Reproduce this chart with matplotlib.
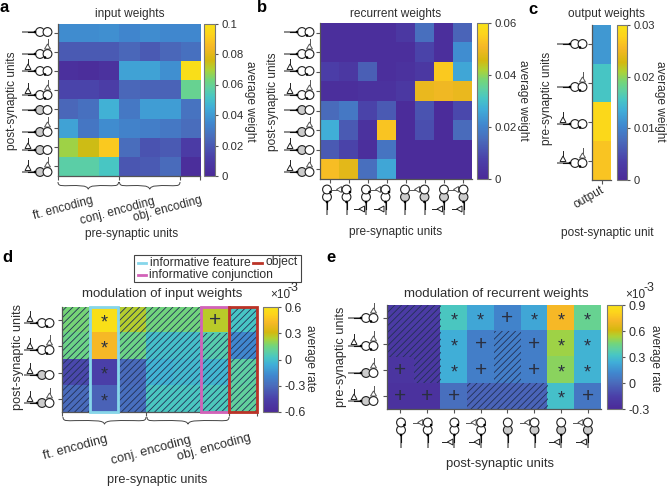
import numpy as np
import matplotlib
matplotlib.use("Agg")
import matplotlib.pyplot as plt
from matplotlib.colors import LinearSegmentedColormap
from matplotlib.patches import Rectangle, Circle, Polygon, PathPatch
from matplotlib.path import Path

plt.rcParams['font.family'] = ['Liberation Sans', 'DejaVu Sans']
plt.rcParams['hatch.linewidth'] = 0.6
TXT = '#2e2e2e'
W, H = 667, 487

input_weights = [
    [.036, .036, .037, .034, .036, .035, .035],
    [.020, .020, .020, .024, .020, .024, .027],
    [.004, .003, .005, .042, .042, .037, .098],
    [.014, .014, .011, .024, .023, .023, .060],
    [.024, .027, .046, .030, .041, .041, .028],
    [.042, .029, .036, .033, .032, .030, .026],
    [.068, .075, .090, .026, .018, .020, .010],
    [.057, .057, .052, .019, .020, .025, .003]]
recurrent_weights = [
    [.002, .002, .002, .002, .005, .016, .002, .014],
    [.002, .002, .002, .002, .002, .008, .002, .022],
    [.007, .005, .013, .002, .003, .005, .054, .026],
    [.002, .002, .003, .003, .005, .049, .050, .049],
    [.015, .018, .008, .012, .001, .011, .001, .009],
    [.027, .012, .003, .053, .001, .010, .001, .015],
    [.012, .008, .002, .017, .001, .001, .001, .001],
    [.052, .048, .016, .026, .001, .001, .001, .001]]
output_weights = [[.0118], [.0155], [.0285], [.0265]]
mod_input = [
    [.16, .58, .25, .15, .15, .26, .02],
    [.14, .42, .14, .00, .00, .07, -.18],
    [-.42, -.45, -.30, -.04, -.02, -.03, .09],
    [-.30, -.33, -.28, .03, .03, .04, .10]]
mod_input_marks = [
    ['h', '*', 'h', 'h', 'h', '+', 'h'],
    ['h', '*', 'h', 'h', 'h', 'h', 'h'],
    ['h', '*', 'h', 'h', 'h', 'h', 'h'],
    ['h', '*', 'h', 'h', 'h', 'h', 'h']]
mod_rec = [
    [-.18, -.18, .33, .22, .10, .22, .72, .42],
    [-.20, -.20, .24, .08, .08, .08, .52, .26],
    [-.22, -.20, .24, .08, .08, .08, .49, .26],
    [-.24, -.24, .02, -.02, -.02, -.02, .30, .05]]
mod_rec_marks = [
    ['h', 'h', '*', '*', '+', '*', '*', '*'],
    ['h', 'h', '*', '+', 'h', '+', '*', '*'],
    ['+', 'h', '*', '+', 'h', '+', '*', '*'],
    ['+', '+', '+', 'h', 'h', 'h', '*', '+']]
group_labels = ['ft. encoding', 'conj. encoding', 'obj. encoding']
group_edges = [0, 3, 6, 7]

cmap = LinearSegmentedColormap.from_list('parulaish', [
    (0.00, '#4b2a98'), (0.12, '#4b3fa8'), (0.25, '#4a6bbb'), (0.35, '#4088cf'),
    (0.45, '#40aed8'), (0.52, '#48c6c4'), (0.58, '#60d0a0'), (0.63, '#72d57c'),
    (0.70, '#aed235'), (0.76, '#d4b80f'), (0.85, '#f6b827'), (0.93, '#fdd31c'),
    (1.00, '#f8e318')])

fig = plt.figure(figsize=(W / 100, H / 100), dpi=100)


def px_axes(l, t, r, b, **kw):
    return fig.add_axes([l / W, 1 - b / H, (r - l) / W, (b - t) / H], **kw)


def heat(box, cbox, data, vmin, vmax, cticks, clabels, csize):
    ax = px_axes(*box)
    d = np.array(data)
    im = ax.imshow(d, cmap=cmap, vmin=vmin, vmax=vmax, aspect='auto',
                   interpolation='nearest')
    for s in ('top', 'right'):
        ax.spines[s].set_visible(False)
    for s in ('left', 'bottom'):
        ax.spines[s].set_color('#555555')
        ax.spines[s].set_linewidth(0.9)
    ax.set_yticks(range(d.shape[0]))
    ax.set_yticklabels([])
    ax.set_xticks(range(d.shape[1]))
    ax.set_xticklabels([])
    ax.tick_params(length=3, width=0.8, color='#555555')
    cax = px_axes(*cbox)
    cb = fig.colorbar(im, cax=cax)
    cb.set_ticks(cticks)
    cb.set_ticklabels(clabels)
    cb.ax.tick_params(length=2.5, width=0.8, color='#555555', labelsize=csize,
                      labelcolor=TXT, pad=2)
    cb.outline.set_edgecolor('#777777')
    cb.outline.set_linewidth(0.8)
    return ax


def groups(ax):
    ax.set_xticks([e - 0.5 for e in group_edges])
    ax.tick_params(axis='x', length=3)


def marks(ax, table):
    for i, row in enumerate(table):
        for j, m in enumerate(row):
            if m == 'h':
                ax.add_patch(Rectangle((j - .5, i - .5), 1, 1, fill=False, hatch='/' * 5,
                                       lw=0, edgecolor='#223055'))
            else:
                ax.text(j, i + (0.1 if m == '*' else 0), m, ha='center', va='center',
                        fontsize=13 if m == '*' else 15, color='#2a2f40')


a = heat((57.5, 23.5, 200, 176), (204, 23.5, 215, 176), input_weights, 0, .1,
         [0, .02, .04, .06, .08, .1], ['0', '0.02', '0.04', '0.06', '0.08', '0.1'], 8.2)
groups(a)
b = heat((320, 23, 472, 179), (477, 23, 488, 179), recurrent_weights, 0, .06,
         [0, .02, .04, .06], ['0', '0.02', '0.04', '0.06'], 8.2)
c = heat((592, 25, 611, 180), (617, 25, 627, 180), output_weights, 0, .03,
         [0, .01, .02, .03], ['0', '0.01', '0.02', '0.03'], 8.0)
d = heat((62, 307, 257, 412), (263, 307, 278, 412), mod_input, -.6, .6,
         [-.6, -.3, 0, .3, .6], ['-0.6', '-0.3', '0', '0.3', '0.6'], 9)
groups(d)
marks(d, mod_input_marks)
e = heat((387, 305, 601, 409), (607, 305, 622, 409), mod_rec, -.3, .9,
         [-.3, 0, .3, .6, .9], ['-0.3', '0', '0.3', '0.6', '0.9'], 9)
marks(e, mod_rec_marks)
for axx, col, colr in ((d, 1, '#86d6ea'), (d, 5, '#d262b8'), (d, 6, '#bb3327')):
    axx.add_patch(Rectangle((col - .5, -.5), 1, 4, fill=False, edgecolor=colr, lw=2,
                            clip_on=False, zorder=5))

# Overlay in pixel coordinates for icons, braces and text
ov = fig.add_axes([0, 0, 1, 1], zorder=10)
ov.set_xlim(0, W)
ov.set_ylim(H, 0)
ov.axis('off')


def icon(cx, cy, gray=False, left=False, right=False, dot=True, vertical=False):
    def T(dx, dy):
        return (cx + dy, cy - dx) if vertical else (cx + dx, cy + dy)
    lc = '#222222'
    ov.plot(*zip(T(-18, 0), T(-5, 0)), color='#777777', lw=1.2, solid_capstyle='butt')
    ov.plot(*zip(T(-12, 0), T(-5, 0)), color='#111111', lw=0.8)
    ov.add_patch(Circle(T(0, 0), 4.4, fc='#cccccc' if gray else 'white', ec=lc, lw=0.8, zorder=3))
    ov.add_patch(Circle(T(7.5, 0), 4.4, fc='white', ec=lc, lw=0.8, zorder=3))
    ov.add_patch(Circle(T(-5, 0), 1.3, fc='k', ec='none', zorder=4))
    if dot:
        ov.add_patch(Circle(T(5, 3.5), 1.3, fc='k', ec='none', zorder=4))
    if right:
        ov.add_patch(Polygon([T(4.5, -5), T(10.5, -5), T(7.5, -10)], fc='white', ec='#555555', lw=0.7, zorder=2))
        ov.plot(*zip(T(7.5, -10), T(7.5, -15)), color='#555555', lw=0.7)
    if left:
        ov.add_patch(Polygon([T(-15, -1.5), T(-9, -1.5), T(-12, -7)], fc='white', ec=lc, lw=0.7, zorder=2))
        ov.plot(*zip(T(-12, -7), T(-12, -12)), color=lc, lw=0.7)


def brace(x0, x1, y, h=6):
    m = (x0 + x1) / 2
    verts = [(x0, y), (x0, y + h * .8), (x0 + 5, y + h * .6), (x0 + 12, y + h * .6),
             (m - 10, y + h * .6), (m - 1, y + h * .5), (m, y + h * 1.2),
             (m + 1, y + h * .5), (m + 10, y + h * .6), (x1 - 12, y + h * .6),
             (x1 - 5, y + h * .6), (x1, y + h * .8), (x1, y)]
    codes = [Path.MOVETO] + [Path.CURVE4] * 12
    ov.add_patch(PathPatch(Path(verts, codes), fill=False, ec='#444444', lw=0.7))


eight = [(False, False, False, False), (False, False, True, True), (False, True, False, True),
         (False, True, True, True), (True, False, False, False), (True, False, True, False),
         (True, True, False, False), (True, True, True, False)]
row_y = [32, 54, 71, 95, 110, 132, 150, 172]
for yy, (g, l, r, dt) in zip(row_y, eight):
    icon(40, yy, g, l, r, dt)
    icon(302, yy, g, l, r, not g)
for i, (g, l, r, dt) in enumerate(eight):
    icon(327 + i * 19.5, 197, g, l, r, not g, vertical=True)
for yy, (l, r) in zip([44, 87, 124, 163], [(False, False), (False, True), (True, False), (True, True)]):
    icon(575, yy, False, l, r, True)
for yy, (g, l, r) in zip([323, 350, 375, 403], [(False, True, False), (False, True, True), (True, True, False), (True, True, True)]):
    icon(42, yy, g, l, r, not g)
for yy, (g, l, r) in zip([318, 346, 373, 401], [(False, False, True), (False, True, True), (True, False, True), (True, True, True)]):
    icon(366, yy, g, l, r, not g)
for i, (g, l, r, dt) in enumerate(eight):
    icon(401 + i * 26.7, 430, g, l, r, not g, vertical=True)

brace(58, 118.5, 182)
brace(119.5, 180, 182)
brace(63, 146, 417)
brace(147, 229, 417)


def t(x, y, s, size=8.6, rot=0, **kw):
    kw.setdefault('ha', 'center')
    kw.setdefault('va', 'center')
    kw.setdefault('color', TXT)
    ov.text(x, y, s, fontsize=size, rotation=rot, rotation_mode='anchor', **kw)


# panel letters
for x, y, s in [(4, 8, 'a'), (262, 7, 'b'), (533, 10, 'c'), (7, 258, 'd'), (331, 258, 'e')]:
    t(x, y, s, size=12, fontweight='bold', color='k')

# panel a
t(130, 14, 'input weights')
t(12, 101, 'post-synaptic units', rot=90)
t(250, 101, 'average weight', rot=-90)
for (x, y), s in zip([(63, 208), (118, 211), (168, 209)], group_labels):
    t(x, y, s, rot=15)
t(132, 234, 'pre-synaptic units')
# panel b
t(396, 14, 'recurrent weights')
t(273, 102, 'post-synaptic units', rot=90)
t(523, 100, 'average weight', rot=-90)
t(396, 232, 'pre-synaptic units')
# panel c
t(606, 14, 'output weights')
t(547, 98, 'pre-synaptic units', rot=90)
t(660, 101, 'average weight', rot=-90)
t(589, 197, 'output', rot=30)
t(607, 233, 'post-synaptic unit')
# panel d
t(162, 294, 'modulation of input weights', size=9.5)
t(18, 357, 'post-synaptic units', size=9.2, rot=90)
t(310, 358, 'average rate', size=8.6, rot=-90)
for (x, y), s in zip([(75, 448), (151, 451), (214, 447)], group_labels):
    t(x, y, s, size=9.2, rot=15)
t(157, 480, 'pre-synaptic units', size=9.2)
t(270, 295, '×10', size=8.5, ha='left')
t(288, 288, '-3', size=9, ha='left')
# panel e
t(496, 294, 'modulation of recurrent weights', size=9.5)
t(341, 357, 'pre-synaptic units', size=9.2, rot=90)
t(655, 358, 'average rate', size=8.6, rot=-90)
t(500, 464, 'post-synaptic units', size=9.4)
t(625, 295, '×10', size=8.5, ha='left')
t(644, 288, '-3', size=9, ha='left')

# legend box
ov.add_patch(Rectangle((133.5, 255), 167.5, 27, fill=False, ec='#444444', lw=0.8))
ov.plot([137.5, 146], [263, 263], color='#86d6ea', lw=2)
t(150, 263, 'informative feature', size=8.7, ha='left')
ov.plot([252.5, 261.5], [262.5, 262.5], color='#bb3327', lw=2)
t(265, 262, 'object', size=8.7, ha='left')
ov.plot([137.5, 146], [274.5, 274.5], color='#d262b8', lw=2)
t(149, 275, 'informative conjunction', size=8.7, ha='left')

fig.savefig('out.png', dpi=100)
